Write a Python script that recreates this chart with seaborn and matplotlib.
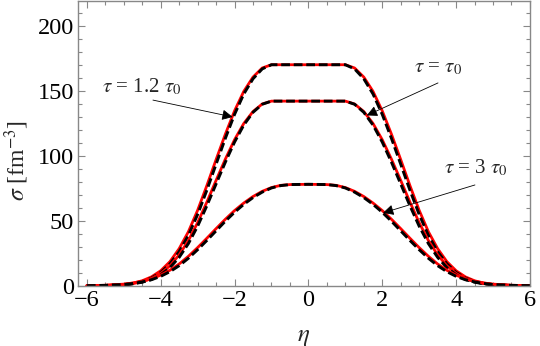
import matplotlib
matplotlib.use("Agg")
import matplotlib.pyplot as plt
import seaborn as sns
import pandas as pd

# eta grid
eta = [-6, -5.5, -5, -4.75, -4.5, -4.25, -4, -3.75, -3.5, -3.25, -3, -2.75, -2.5,
       -2.25, -2, -1.75, -1.5, -1.25, -1, -0.75, -0.5, 0, 0.5, 0.75, 1, 1.25, 1.5,
       1.75, 2, 2.25, 2.5, 2.75, 3, 3.25, 3.5, 3.75, 4, 4.25, 4.5, 4.75, 5, 5.5, 6]

# tau = 1.2 tau0
top_red = [0, 0.2, 1.0, 2.0, 3.8, 6.8, 11.5, 18.5, 28.5, 41.5, 58, 77, 97, 116.5, 134.5, 149.5, 160.5, 167.5,
           170, 170, 170, 170, 170, 170, 170,
           167.5, 160.5, 149.5, 134.5, 116.5, 97, 77, 58, 41.5, 28.5, 18.5, 11.5, 6.8, 3.8, 2.0, 1.0, 0.2, 0]
top_black = [0, 0.15, 0.8, 1.7, 3.2, 5.9, 10.2, 16.8, 26.2, 38.7, 54.8, 73.5, 93.5, 113.3, 131.8, 147.5, 159.2, 166.8,
             170, 170, 170, 170, 170, 170, 170,
             166.8, 159.2, 147.5, 131.8, 113.3, 93.5, 73.5, 54.8, 38.7, 26.2, 16.8, 10.2, 5.9, 3.2, 1.7, 0.8, 0.15, 0]

# tau = tau0
mid_red = [0, 0.2, 0.8, 1.6, 3.1, 5.5, 9.4, 15.3, 23.7, 34.7, 48.5, 64.3, 81, 97.3, 112.3, 124.8, 134, 139.8,
           142, 142, 142, 142, 142, 142, 142,
           139.8, 134, 124.8, 112.3, 97.3, 81, 64.3, 48.5, 34.7, 23.7, 15.3, 9.4, 5.5, 3.1, 1.6, 0.8, 0.2, 0]
mid_black = [0, 0.15, 0.65, 1.4, 2.7, 4.8, 8.4, 13.9, 21.8, 32.4, 45.8, 61.5, 78.3, 95, 110.5, 123.6, 133.4, 139.6,
             142, 142, 142, 142, 142, 142, 142,
             139.6, 133.4, 123.6, 110.5, 95, 78.3, 61.5, 45.8, 32.4, 21.8, 13.9, 8.4, 4.8, 2.7, 1.4, 0.65, 0.15, 0]

# tau = 3 tau0
low_red = [0, 0.35, 1.2, 2.1, 3.4, 5.3, 8.1, 11.9, 16.7, 22.6, 29.3, 36.5, 43.9, 51.1, 57.8, 63.6, 68.6, 72.6,
           75.5, 77.2, 77.8, 78, 77.8, 77.2, 75.5,
           72.6, 68.6, 63.6, 57.8, 51.1, 43.9, 36.5, 29.3, 22.6, 16.7, 11.9, 8.1, 5.3, 3.4, 2.1, 1.2, 0.35, 0]
low_black = [0, 0.25, 0.9, 1.7, 2.9, 4.6, 7.2, 10.8, 15.4, 21.1, 27.7, 34.8, 42.2, 49.6, 56.5, 62.6, 67.8, 72,
             75.2, 77, 77.8, 78, 77.8, 77, 75.2,
             72, 67.8, 62.6, 56.5, 49.6, 42.2, 34.8, 27.7, 21.1, 15.4, 10.8, 7.2, 4.6, 2.9, 1.7, 0.9, 0.25, 0]

x_ticks = [-6, -4, -2, 0, 2, 4, 6]
y_ticks = [0, 50, 100, 150, 200]

sns.set_theme(style="ticks")
plt.rcParams['font.family'] = ['Liberation Serif', 'DejaVu Serif']
plt.rcParams['mathtext.fontset'] = 'stix'

df = pd.DataFrame({'eta': eta, 'top_red': top_red, 'top_black': top_black,
                   'mid_red': mid_red, 'mid_black': mid_black,
                   'low_red': low_red, 'low_black': low_black})

fig = plt.figure(figsize=(5.4, 3.46), dpi=100)
ax = fig.add_axes([0.1444, 0.1743, 0.837, 0.8227])

for name in ['top', 'mid', 'low']:
    sns.lineplot(data=df, x='eta', y=name + '_red', color='red', lw=2.0, ax=ax)
    sns.lineplot(data=df, x='eta', y=name + '_black', color='black', lw=2.1,
                 linestyle=(0, (3, 1.3)), ax=ax)

ax.set_xlim(-6.24, 6.0)
ax.set_ylim(0, 219)
ax.set_xticks(x_ticks)
ax.set_yticks(y_ticks)
ax.set_xticklabels(['\u2212' + str(-t) if t < 0 else str(t) for t in x_ticks])
ax.xaxis.set_minor_locator(matplotlib.ticker.MultipleLocator(0.5))
ax.yaxis.set_minor_locator(matplotlib.ticker.MultipleLocator(10))
ax.tick_params(which='both', direction='in', top=True, right=True, color='#888888',
               labelsize=17.5, labelcolor='black', width=0.8)
ax.tick_params(which='major', length=5, pad=3)
ax.tick_params(which='minor', length=3)
for s in ax.spines.values():
    s.set_color('#888888')
    s.set_linewidth(1.0)

ax.set_xlabel(r'$\eta$', fontsize=18)
ax.set_ylabel(r'$\sigma$ [fm$^{-3}$]', fontsize=17)
ax.xaxis.set_label_coords(0.5, -0.14)
ax.yaxis.set_label_coords(-0.104, 0.44)

# annotations
arrow = dict(arrowstyle='-|>', color='black', lw=0.6, mutation_scale=16,
             shrinkA=0, shrinkB=0)
ax.annotate('', xy=(-2.05, 129.8), xytext=(-4.21, 142.8), arrowprops=arrow)
ax.text(-4.51, 152.8, r'$\tau$ = 1.2 $\tau_0$', fontsize=15, ha='center', va='center')
ax.annotate('', xy=(1.58, 131), xytext=(3.51, 156), arrowprops=arrow)
ax.text(3.51, 168, r'$\tau$ = $\tau_0$', fontsize=15, ha='center', va='center')
ax.annotate('', xy=(2.02, 56), xytext=(4.51, 77.5), arrowprops=arrow)
ax.text(4.54, 90.5, r'$\tau$ = 3 $\tau_0$', fontsize=15, ha='center', va='center')

fig.savefig('out.png', dpi=100)
